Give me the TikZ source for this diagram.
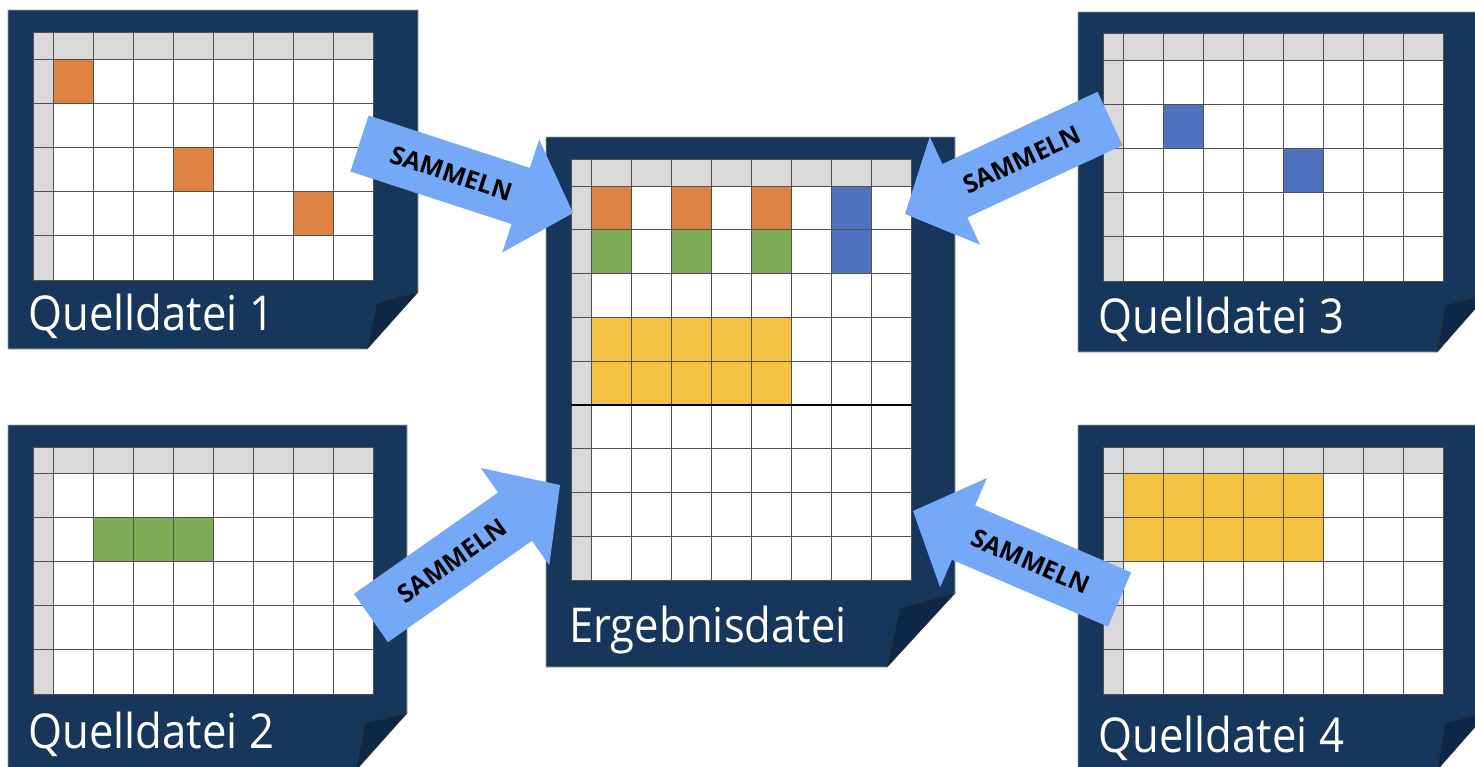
\documentclass[tikz,border=0pt]{standalone}
\usepackage{fontspec}
\usetikzlibrary{calc}
\newfontfamily\lblfont[FakeStretch=0.91]{Open Sans}
\newfontfamily\arrfont{Open Sans}
\definecolor{navy}{HTML}{16365C}
\definecolor{folddark}{HTML}{0F2847}
\definecolor{docedge}{HTML}{9AA3AE}
\definecolor{hdr}{HTML}{D9D9D9}
\definecolor{gridline}{HTML}{505050}
\definecolor{corange}{HTML}{DF8344}
\definecolor{cgreen}{HTML}{7EAB55}
\definecolor{cblue}{HTML}{4F71BE}
\definecolor{cyellow}{HTML}{F3C243}
\definecolor{arrowc}{HTML}{75A8F7}
\tikzset{
  docbody/.style={fill=navy, draw=docedge, line width=0.7pt},
  docfold/.style={fill=folddark, draw=black!80, line width=0.6pt, line join=round},
  gl/.style={draw=gridline, line width=1pt},
  lbl/.style={text=white, inner sep=0pt, font=\lblfont\fontsize{48}{48}\selectfont},
  samtext/.style={text=black, inner sep=0pt, font=\arrfont\bfseries\fontsize{25}{25}\selectfont},
  arrowfill/.style={fill=arrowc},
}
% document outline: x1,y1,x2,y2,yc,xi,yi,xb
\newcommand\docshape[8]{%
  \filldraw[docbody] (#1,#2) -- (#3,#2) -- (#3,#5) -- (#8,#4) -- (#1,#4) -- cycle;
  \filldraw[docfold] (#3,#5) -- (#6,#7) -- (#8,#4) -- cycle;
}
% grid background: x0,y0,hb,rowh,nrows
\newcommand\gridbg[5]{%
  \fill[white] (#1,#2) rectangle ({#1+340.8},{#3+#5*#4});
  \fill[hdr] (#1,#2) rectangle ({#1+340.8},#3);
  \fill[hdr] (#1,#2) rectangle ({#1+20},{#3+#5*#4});
}
% coloured block: x0,hb,rowh,c1,r1,c2,r2,colour
\newcommand\cellblock[8]{%
  \fill[#8] ({#1+20+(#4-1)*40.1},{#2+(#5-1)*#3}) rectangle ({#1+20+#6*40.1},{#2+#7*#3});
}
% grid lines: x0,y0,hb,rowh,nrows
\newcommand\gridlines[5]{%
  \foreach \k in {0,...,8} \draw[gl] ({#1+20+\k*40.1},#2) -- ({#1+20+\k*40.1},{#3+#5*#4});
  \draw[gl] (#1,#2) -- (#1,{#3+#5*#4});
  \draw[gl] (#1,#2) -- ({#1+340.8},#2);
  \foreach \k in {0,...,#5} \draw[gl] (#1,{#3+\k*#4}) -- ({#1+340.8},{#3+\k*#4});
}
% block arrow: tail, tip, name
\newcommand\sammelarrow[3]{%
  \coordinate (#3b) at ($(#2)!55pt!(#1)$);
  \fill[arrowfill] ($(#1)!29.5pt!90:(#2)$) -- ($(#3b)!29.5pt!90:(#2)$) -- ($(#3b)!59.5pt!90:(#2)$) -- (#2)
     -- ($(#3b)!59.5pt!-90:(#2)$) -- ($(#3b)!29.5pt!-90:(#2)$) -- ($(#1)!29.5pt!-90:(#2)$) -- cycle;
  \path (#1) -- (#2) node[pos=0.43, sloped, samtext] (#3t) {SAMMELN};
}
\begin{document}
\begin{tikzpicture}[x=1pt, y=-1pt]
\useasboundingbox (0,0) rectangle (1475,766);
\clip (0,0) rectangle (1475,766);

% ---------- Quelldatei 1 ----------
\docshape{8}{10}{418}{349}{292}{377}{303}{367}
\gridbg{33}{32}{59}{44.2}{5}
\cellblock{33}{59}{44.2}{1}{1}{1}{1}{corange}
\cellblock{33}{59}{44.2}{4}{3}{4}{3}{corange}
\cellblock{33}{59}{44.2}{7}{4}{7}{4}{corange}
\gridlines{33}{32}{59}{44.2}{5}
\node[lbl, anchor=base west] (q1) at (28,330) {Quelldatei 1};

% ---------- Quelldatei 2 ----------
\docshape{8}{425}{407}{770}{713}{365}{723}{356}
\gridbg{33}{447}{473}{44.2}{5}
\cellblock{33}{473}{44.2}{2}{2}{4}{2}{cgreen}
\gridlines{33}{447}{473}{44.2}{5}
\node[lbl, anchor=base west] (q2) at (28,748) {Quelldatei 2};

% ---------- Quelldatei 3 ----------
\docshape{1078}{12}{1488}{352}{294}{1445}{305}{1437}
\gridbg{1103}{33}{60}{44.2}{5}
\cellblock{1103}{60}{44.2}{2}{2}{2}{2}{cblue}
\cellblock{1103}{60}{44.2}{5}{3}{5}{3}{cblue}
\gridlines{1103}{33}{60}{44.2}{5}
\node[lbl, anchor=base west] (q3) at (1098,333) {Quelldatei 3};

% ---------- Quelldatei 4 ----------
\docshape{1078}{425}{1488}{770}{712}{1445}{723}{1437}
\gridbg{1103}{447}{473}{44.2}{5}
\cellblock{1103}{473}{44.2}{1}{1}{5}{2}{cyellow}
\gridlines{1103}{447}{473}{44.2}{5}
\node[lbl, anchor=base west] (q4) at (1098,752) {Quelldatei 4};

% ---------- Ergebnisdatei ----------
\docshape{546}{137}{955}{667}{593}{900}{608}{887}
\gridbg{571}{159}{186}{43.8}{9}
\cellblock{571}{186}{43.8}{1}{1}{1}{1}{corange}
\cellblock{571}{186}{43.8}{3}{1}{3}{1}{corange}
\cellblock{571}{186}{43.8}{5}{1}{5}{1}{corange}
\cellblock{571}{186}{43.8}{1}{2}{1}{2}{cgreen}
\cellblock{571}{186}{43.8}{3}{2}{3}{2}{cgreen}
\cellblock{571}{186}{43.8}{5}{2}{5}{2}{cgreen}
\cellblock{571}{186}{43.8}{7}{1}{7}{2}{cblue}
\cellblock{571}{186}{43.8}{1}{4}{5}{5}{cyellow}
\gridlines{571}{159}{186}{43.8}{9}
\draw[black, line width=1.3pt] (571,{186+5*43.8}) -- (911.8,{186+5*43.8});
\node[lbl, anchor=base west] (erg) at (569,642) {Ergebnisdatei};

% ---------- arrows ----------
\coordinate (a1tail) at (359.5,143.5);
\coordinate (a1tip)  at (573,213);
\coordinate (a2tail) at (371,618);
\coordinate (a2tip)  at (560,485);
\coordinate (a3tail) at (1110,118.5);
\coordinate (a3tip)  at (905,214);
\coordinate (a4tail) at (1119.5,599.5);
\coordinate (a4tip)  at (913,511);
\sammelarrow{a1tail}{a1tip}{a1}
\sammelarrow{a2tail}{a2tip}{a2}
\sammelarrow{a3tail}{a3tip}{a3}
\sammelarrow{a4tail}{a4tip}{a4}
\end{tikzpicture}
\end{document}
